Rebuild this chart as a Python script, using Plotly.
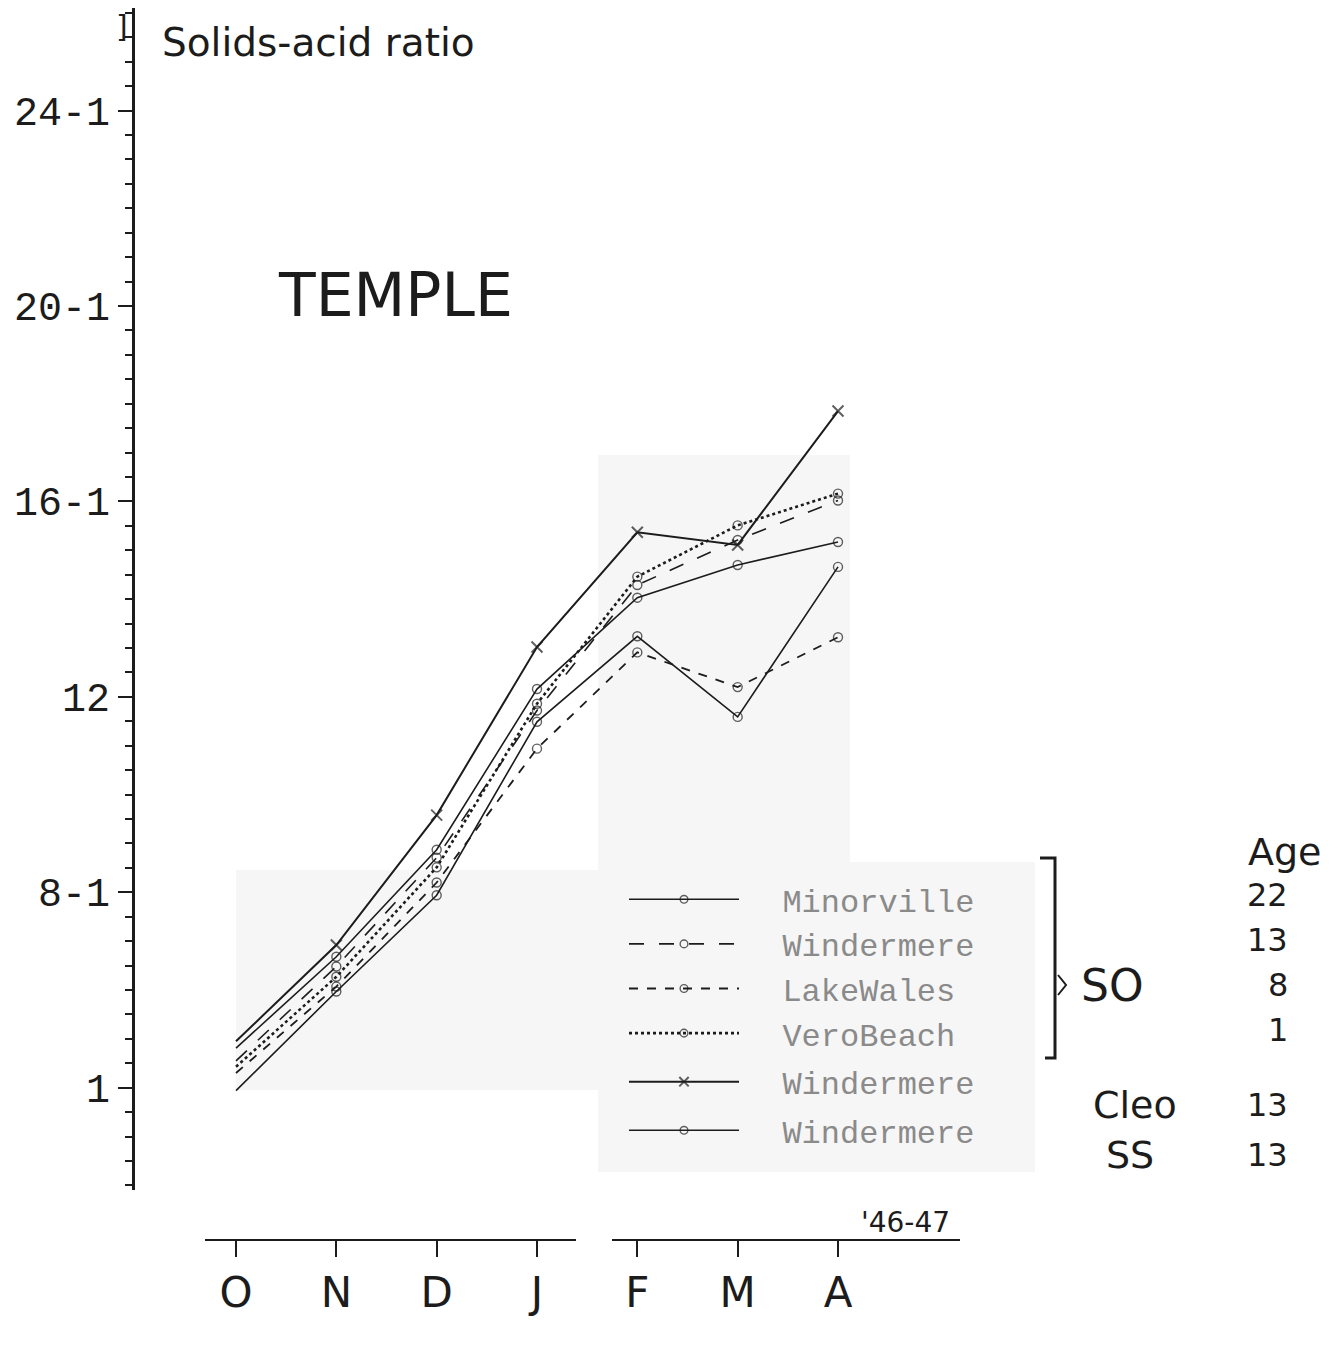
import plotly.graph_objects as go

# ---------------- data ----------------
months = ["O", "N", "D", "J", "F", "M", "A"]
month_idx = [0, 1, 2, 3, 4, 5, 6]

minorville_so = [4.81, 6.68, 8.87, 12.16, 14.03, 14.70, 15.17]
windermere_so = [4.55, 6.48, 8.71, 11.72, 14.29, 15.21, 16.02]
lakewales_so = [4.30, 6.07, 8.20, 10.94, 12.91, 12.20, 13.22]
verobeach_so = [4.43, 6.27, 8.51, 11.86, 14.46, 15.51, 16.16]
windermere_cleo = [4.95, 6.92, 9.58, 13.02, 15.37, 15.11, 17.85]
windermere_ss = [3.94, 5.97, 7.94, 11.49, 13.24, 11.59, 14.66]

y_tickvals = [4, 8, 12, 16, 20, 24]
y_ticktext = ["1", "8-1", "12", "16-1", "20-1", "24-1"]

ages = ["22", "13", "8", "1", "13", "13"]

# ---------------- layout helpers ----------------
OFF = 8
W, H = 1330, 1350
PLOT_LEFT, PLOT_BOTTOM = 133, 1240          # screen pixels
ML = PLOT_LEFT - OFF
MB = H - (PLOT_BOTTOM - OFF)
MR, MT = 0, 0
PW, PH = W - ML - MR, H - MT - MB


def px(xs):
    return (xs - OFF - ML) / PW


def py(ys):
    return (H - MB - (ys - OFF)) / PH


INK = "#1c1c1c"
FONT = "DejaVu Sans"
MONO = "Liberation Mono"
NB = "\u00a0\u00a0"

fig = go.Figure()

series = [
    ("Minorville", minorville_so, "solid", 1.6, "circle-open", "so"),
    ("Windermere", windermere_so, "longdash", 1.6, "circle-open", "so"),
    ("LakeWales", lakewales_so, "dash", 1.8, "circle-open", "so"),
    ("VeroBeach", verobeach_so, "dot", 2.6, "circle-open", "so"),
    ("Windermere", windermere_cleo, "solid", 2.0, "x-thin-open", "cleo"),
    ("Windermere", windermere_ss, "solid", 1.6, "circle-open", "ss"),
]

for name, vals, dash, w, sym, grp in series:
    is_x = "x" in sym
    sizes = [0] + [11 if is_x else 9] * (len(vals) - 1)
    fig.add_trace(go.Scatter(
        x=month_idx, y=vals, mode="lines+markers", name=NB + name,
        legendgroup=grp,
        line=dict(color=INK, width=w, dash=dash),
        marker=dict(symbol=sym, size=sizes, color=INK,
                    line=dict(color=INK, width=2 if is_x else 1.4)),
    ))

# faint grey pasted-paper patches
for (x0, y0, x1, y1) in [(598, 455, 850, 862), (236, 870, 598, 1090), (598, 862, 1035, 1172)]:
    fig.add_shape(type="rect", xref="paper", yref="paper",
                  x0=px(x0), x1=px(x1), y0=py(y1), y1=py(y0),
                  fillcolor="#f6f6f6", line=dict(width=0), layer="below")

# gap in the hand-drawn month axis between J and F
fig.add_shape(type="line", xref="paper", yref="paper",
              x0=px(576), x1=px(612), y0=py(1240), y1=py(1240),
              line=dict(color="white", width=5), layer="above")

# bracket for SO group
fig.add_shape(type="path", xref="paper", yref="paper",
              path=f"M {px(1040)},{py(858)} L {px(1055)},{py(858)} L {px(1055)},{py(1058)} L {px(1045)},{py(1058)}",
              line=dict(color=INK, width=3))
fig.add_shape(type="path", xref="paper", yref="paper",
              path=f"M {px(1058)},{py(975)} L {px(1066)},{py(985)} L {px(1058)},{py(995)}",
              line=dict(color=INK, width=2))

ann = []


def add_text(text, x, y, size, color=INK, xanchor="center", family=FONT):
    ann.append(dict(text=text, x=px(x), y=py(y), xref="paper", yref="paper",
                    showarrow=False, xanchor=xanchor, yanchor="middle",
                    font=dict(size=size, color=color, family=family)))


add_text("]", 122, 26, 30, xanchor="center")
add_text("Solids-acid ratio", 160, 42, 39, xanchor="left")
add_text("TEMPLE", 395, 295, 60)
add_text("Age", 1285, 852, 38)
for a, yy in zip(ages, [895, 940, 985, 1030, 1105, 1155]):
    add_text(a, 1290, yy, 32, xanchor="right")
add_text("SO", 1112, 985, 44)
add_text("Cleo", 1135, 1105, 38)
add_text("SS", 1130, 1155, 38)
add_text("'46-47", 905, 1222, 28)

fig.update_layout(
    width=W, height=H,
    margin=dict(l=ML, r=MR, t=MT, b=MB, autoexpand=False),
    paper_bgcolor="white", plot_bgcolor="rgba(0,0,0,0)",
    font=dict(family=FONT, color=INK),
    annotations=ann,
    showlegend=True,
    legend=dict(
        x=px(624), y=py(872), xanchor="left", yanchor="top",
        bgcolor="rgba(0,0,0,0)", itemwidth=110, tracegroupgap=4,
        font=dict(size=32, color="#8a8a8a", family=MONO),
    ),
    xaxis=dict(
        domain=[px(205), px(960)], anchor="free", position=0, automargin=False,
        range=[-0.309, 7.216], tickmode="array", tickvals=month_idx, ticktext=months,
        showline=True, linecolor=INK, linewidth=2, ticks="outside", ticklen=16,
        tickwidth=2, tickcolor=INK, showgrid=False, zeroline=False,
        tickfont=dict(size=42, color=INK, family=FONT),
    ),
    yaxis=dict(
        domain=[py(1190), 1], anchor="free", position=0, automargin=False,
        range=[1.906, 26.1], tickmode="array", tickvals=y_tickvals, ticktext=y_ticktext,
        showline=True, linecolor=INK, linewidth=3, ticks="outside", ticklen=14,
        tickwidth=2, tickcolor=INK, showgrid=False, zeroline=False,
        minor=dict(dtick=0.5, tick0=0, ticks="outside", ticklen=7, tickwidth=2, tickcolor=INK),
        tickfont=dict(size=40, color=INK, family=MONO),
    ),
)

fig.write_html("out.html")
